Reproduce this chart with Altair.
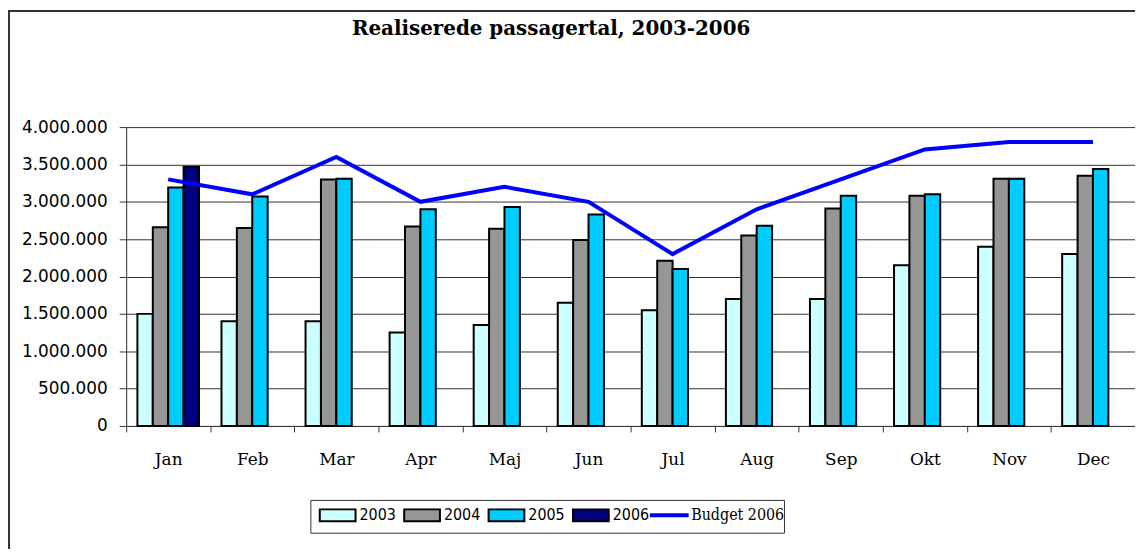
import altair as alt
import pandas as pd

months = ["Jan", "Feb", "Mar", "Apr", "Maj", "Jun", "Jul", "Aug", "Sep", "Okt", "Nov", "Dec"]
years = ["2003", "2004", "2005", "2006"]
v2003 = [1500000, 1400000, 1400000, 1250000, 1350000, 1650000, 1550000, 1700000, 1700000, 2150000, 2400000, 2300000]
v2004 = [2660000, 2650000, 3300000, 2670000, 2640000, 2490000, 2210000, 2550000, 2910000, 3080000, 3310000, 3350000]
v2005 = [3190000, 3070000, 3310000, 2900000, 2930000, 2830000, 2100000, 2680000, 3080000, 3100000, 3310000, 3440000]
v2006 = [3470000, None, None, None, None, None, None, None, None, None, None, None]
budget = [3300000, 3100000, 3600000, 3000000, 3200000, 3000000, 2300000, 2900000, 3300000, 3700000, 3800000, 3800000]
y_ticks = [0, 500000, 1000000, 1500000, 2000000, 2500000, 3000000, 3500000, 4000000]

year_colors = ["#CCFFFF", "#969696", "#00CCFF", "#000080"]
budget_name = "Budget 2006"
budget_color = "#0000FF"

rows = []
for yr, vals in zip(years, [v2003, v2004, v2005, v2006]):
    for m, v in zip(months, vals):
        if v is not None:
            rows.append({"month": m, "series": yr, "value": v})
bars_df = pd.DataFrame(rows)
line_df = pd.DataFrame({"month": months, "series": budget_name, "value": budget})
deco_df = pd.DataFrame({"k": [0]})

W, H = 1016, 301
PAD = {"left": 119, "top": 118, "right": 0, "bottom": 124}

x_axis = alt.Axis(
    tickBand="extent", labelAngle=0, labelFont="DejaVu Serif", labelFontSize=17,
    labelColor="black", labelPadding=20, tickSize=6, tickColor="#333",
    domainColor="#333", grid=False,
)
y_axis = alt.Axis(
    values=y_ticks, grid=True, gridColor="#333", gridOpacity=1, labelOverlap=False,
    domainColor="#333", tickColor="#333", tickSize=7,
    labelFont="DejaVu Sans", labelFontSize=17, labelColor="black", labelPadding=12,
    labelExpr="replace(format(datum.value, ','), /,/g, '.')",
)
x_enc = alt.X("month:N", sort=months, title=None,
              scale=alt.Scale(paddingInner=0, paddingOuter=0), axis=x_axis)
y_enc = alt.Y("value:Q", title=None,
              scale=alt.Scale(domain=[0, 4000000], nice=False), axis=y_axis)

common_legend = dict(
    title=None, orient="none", direction="horizontal", padding=0,
    symbolSize=144, symbolOffset=12, labelOffset=14, columnPadding=4,
    labelFontSize=16, labelColor="black",
)
bar_legend = alt.Legend(
    legendX=193, legendY=383, columns=4,
    symbolType="M-3,-1L3,-1L3,1L-3,1Z", symbolStrokeWidth=2, symbolStrokeColor="black",
    labelFont="DejaVu Sans Condensed", **common_legend,
)
line_legend = alt.Legend(
    legendX=527, legendY=383, columns=1,
    symbolType="M-3.25,0L3.25,0", symbolStrokeWidth=4, symbolFillColor="transparent",
    labelFont="DejaVu Serif Condensed", **common_legend,
)

bars = alt.Chart(bars_df).mark_bar(stroke="black", strokeWidth=2).encode(
    x=x_enc,
    xOffset=alt.XOffset("series:N", scale=alt.Scale(domain=years, paddingInner=0, paddingOuter=0.73)),
    y=y_enc,
    fill=alt.Fill("series:N", scale=alt.Scale(domain=years, range=year_colors), legend=bar_legend),
)
line = alt.Chart(line_df).mark_line(strokeWidth=4).encode(
    x=x_enc,
    y=y_enc,
    stroke=alt.Stroke("series:N", scale=alt.Scale(domain=[budget_name], range=[budget_color]), legend=line_legend),
)
frame_left = alt.Chart(deco_df).mark_rule(color="#333", strokeWidth=2).encode(
    x=alt.value(-118), y=alt.value(-118), y2=alt.value(H + PAD["bottom"])
)
frame_top = alt.Chart(deco_df).mark_rule(color="#333", strokeWidth=2).encode(
    x=alt.value(-119), x2=alt.value(W), y=alt.value(-117)
)
legend_box = alt.Chart(deco_df).mark_rect(fill="white", stroke="#333", strokeWidth=1).encode(
    x=alt.value(186), x2=alt.value(663), y=alt.value(376), y2=alt.value(409)
)

chart = alt.layer(bars, line, frame_left, frame_top, legend_box).properties(
    width=W, height=H,
    title=alt.TitleParams(
        "Realiserede passagertal, 2003-2006", font="DejaVu Serif", fontSize=20,
        fontWeight="bold", color="black", anchor="middle", frame="group", dx=-80, offset=-30,
    ),
    autosize=alt.AutoSizeParams(type="none"),
    padding=PAD,
).configure_view(stroke=None).configure(background="white")

chart.save("out.html", embed_options={"renderer": "svg", "actions": False})
